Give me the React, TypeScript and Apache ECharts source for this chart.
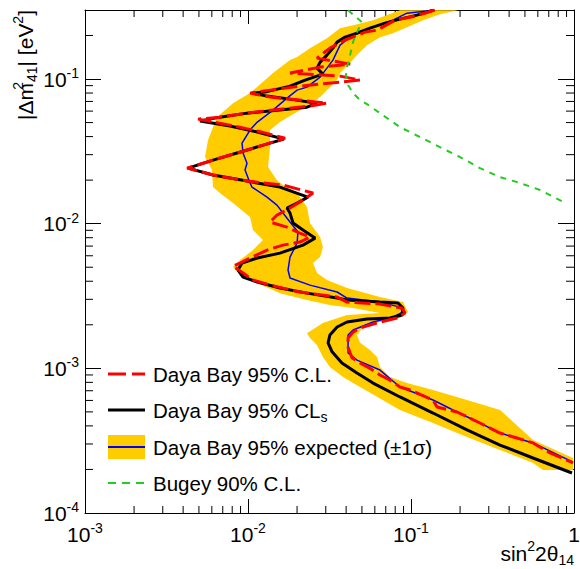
import React, { useEffect, useRef } from "react";
import * as echarts from "echarts";

const FONT = '"Liberation Sans", Arial, Helvetica, sans-serif';

const X_MIN = 0.001;
const X_MAX = 1;
const Y_MIN = 0.0001;
const Y_MAX = 0.3;

// minor tick values (sin^2 2theta) and (dm^2)
const xMinorTicks = [
  0.002, 0.003, 0.004, 0.005, 0.006, 0.007, 0.008, 0.009,
  0.02, 0.03, 0.04, 0.05, 0.06, 0.07, 0.08, 0.09,
  0.2, 0.3, 0.4, 0.5, 0.6, 0.7, 0.8, 0.9,
];
const yMinorTicks = [
  0.0002, 0.0003, 0.0004, 0.0005, 0.0006, 0.0007, 0.0008, 0.0009,
  0.002, 0.003, 0.004, 0.005, 0.006, 0.007, 0.008, 0.009,
  0.02, 0.03, 0.04, 0.05, 0.06, 0.07, 0.08, 0.09,
  0.2,
];

// Daya Bay 95% CLs contour [sin^2 2theta14, |dm^2_41|]
const clsCurve: [number, number][] = [
  [0.1365, 0.299], [0.1088, 0.2764], [0.0856, 0.2593], [0.0693, 0.2434], [0.056, 0.2248],
  [0.0466, 0.2076], [0.0394, 0.1948], [0.0352, 0.1799], [0.0332, 0.1635], [0.0305, 0.1463],
  [0.0277, 0.1309], [0.0265, 0.119], [0.0288, 0.1081], [0.0224, 0.0983], [0.0181, 0.0893],
  [0.0127, 0.0812], [0.0106, 0.0799], [0.0131, 0.0762], [0.0181, 0.0726], [0.0265, 0.0681],
  [0.023, 0.0639], [0.0157, 0.061], [0.00986, 0.0581], [0.00673, 0.0545], [0.00508, 0.0512],
  [0.00775, 0.0473], [0.0114, 0.043], [0.0166, 0.0384], [0.0124, 0.0349], [0.00856, 0.0308],
  [0.0061, 0.0275], [0.00429, 0.0242], [0.0061, 0.0217], [0.00986, 0.0197], [0.0157, 0.0179],
  [0.0233, 0.01527], [0.02, 0.01388], [0.01735, 0.01282], [0.0181, 0.01184], [0.0189, 0.0101],
  [0.02175, 0.00903], [0.0258, 0.00795], [0.02175, 0.00711], [0.0157, 0.00626], [0.0114, 0.00579],
  [0.00919, 0.00534], [0.00868, 0.00478], [0.00932, 0.00428], [0.0114, 0.00395], [0.0157, 0.00359],
  [0.023, 0.00331], [0.0352, 0.00306], [0.0405, 0.00297], [0.0645, 0.00287], [0.0832, 0.00283],
  [0.0893, 0.00261], [0.0881, 0.00234], [0.0743, 0.00223], [0.0537, 0.00219], [0.0405, 0.00209],
  [0.0352, 0.00193], [0.0318, 0.0017], [0.031, 0.0015], [0.0328, 0.0013], [0.0377, 0.00109],
  [0.0466, 0.000928], [0.0585, 0.000791], [0.0856, 0.000634], [0.1365, 0.000491], [0.2206, 0.000375],
  [0.3516, 0.000295], [0.5604, 0.00024], [0.972, 0.000189],
];

// Daya Bay 95% C.L. contour
const clCurve: [number, number][] = [
  [0.14, 0.3], [0.1058, 0.272], [0.0798, 0.2553], [0.0619, 0.2177], [0.0522, 0.2109],
  [0.0394, 0.1857], [0.0318, 0.1635], [0.0265, 0.1395], [0.0423, 0.1268], [0.0277, 0.1209],
  [0.0181, 0.1099], [0.0367, 0.1047], [0.0487, 0.0983], [0.0208, 0.0893], [0.0137, 0.0838],
  [0.0103, 0.0799], [0.0137, 0.075], [0.0208, 0.0715], [0.0305, 0.0681], [0.024, 0.065],
  [0.0157, 0.0619], [0.00986, 0.0581], [0.00673, 0.0545], [0.00494, 0.0528], [0.00775, 0.048],
  [0.0114, 0.0437], [0.0169, 0.039], [0.0124, 0.0349], [0.00856, 0.0308], [0.0061, 0.0275],
  [0.00423, 0.0242], [0.0061, 0.0217], [0.00986, 0.0197], [0.0164, 0.01848], [0.02505, 0.01628],
  [0.02175, 0.01456], [0.0181, 0.01282], [0.01506, 0.01147], [0.01365, 0.01026], [0.01735, 0.00947],
  [0.0208, 0.00861], [0.024, 0.00808], [0.0208, 0.00746], [0.0164, 0.00711], [0.0131, 0.00657],
  [0.0103, 0.00579], [0.00893, 0.00534], [0.00809, 0.00509], [0.00932, 0.00456], [0.01073, 0.00408],
  [0.01365, 0.00376], [0.0208, 0.00337], [0.0352, 0.00311], [0.0405, 0.00287], [0.0645, 0.00278],
  [0.0881, 0.00261], [0.0919, 0.00241], [0.082, 0.00223], [0.0619, 0.00206], [0.0487, 0.0019],
  [0.0441, 0.00178], [0.0411, 0.00162], [0.0411, 0.0014], [0.0423, 0.00128], [0.0435, 0.00118],
  [0.0487, 0.00109], [0.056, 0.001], [0.0645, 0.000899], [0.0743, 0.00083], [0.0856, 0.000743],
  [0.0986, 0.000708], [0.1365, 0.000604], [0.1444, 0.00054], [0.1915, 0.000499], [0.265, 0.000419],
  [0.3516, 0.000357], [0.447, 0.00033], [0.5604, 0.000305], [0.7125, 0.00026], [0.986, 0.000222],
];

// Daya Bay 95% expected (median)
const expCurve: [number, number][] = [
  [0.1365, 0.299], [0.0945, 0.2854], [0.0775, 0.2553], [0.056, 0.2248], [0.0423, 0.1948],
  [0.0367, 0.1715], [0.0332, 0.1351], [0.0277, 0.1031], [0.023, 0.0879], [0.02, 0.0838],
  [0.01735, 0.0738], [0.01424, 0.061], [0.0114, 0.0504], [0.01029, 0.0444], [0.00919, 0.0361],
  [0.00932, 0.0308], [0.00986, 0.0262], [0.00959, 0.0235], [0.01029, 0.0191], [0.01058, 0.0179],
  [0.01308, 0.01527], [0.01506, 0.01344], [0.01639, 0.01184], [0.0181, 0.01026], [0.02026, 0.00875],
  [0.02, 0.00734], [0.0181, 0.00588], [0.0176, 0.00478], [0.0181, 0.00421], [0.024, 0.00376],
  [0.0352, 0.00337], [0.0405, 0.00306], [0.0645, 0.00287], [0.0856, 0.00265], [0.0893, 0.00245],
  [0.0775, 0.00226], [0.0585, 0.00209], [0.0441, 0.00184], [0.0411, 0.0017], [0.0411, 0.00128],
  [0.0466, 0.00114], [0.0645, 0.000973], [0.0856, 0.000743], [0.1365, 0.000604], [0.1915, 0.000499],
  [0.265, 0.000419], [0.3516, 0.000357], [0.5604, 0.000305], [0.986, 0.000225],
];

// expected +-1 sigma band outline (left/upper edge downwards, then right/lower edge upwards)
const bandOutline: [number, number][] = [
  [0.0856, 0.299], [0.0585, 0.2553], [0.0441, 0.2358], [0.0367, 0.2248], [0.0305, 0.1917],
  [0.024, 0.1635], [0.02, 0.1417], [0.0181, 0.1351], [0.01424, 0.1099], [0.01029, 0.0799],
  [0.00809, 0.0681], [0.00645, 0.0545], [0.0061, 0.0465], [0.00568, 0.0378], [0.00545, 0.0289],
  [0.00601, 0.0235], [0.0061, 0.0179], [0.00673, 0.0163], [0.00809, 0.0139], [0.01029, 0.0111],
  [0.01073, 0.00903], [0.01236, 0.0077], [0.01073, 0.00657], [0.00893, 0.0056], [0.00809, 0.00501],
  [0.00932, 0.00428], [0.0114, 0.00389], [0.0157, 0.00331], [0.023, 0.00297], [0.0318, 0.00274],
  [0.0441, 0.00261], [0.0645, 0.00241], [0.0405, 0.00234], [0.0288, 0.00206], [0.023, 0.00175],
  [0.024, 0.00162], [0.0265, 0.00145], [0.0288, 0.0012], [0.0318, 0.00102], [0.0383, 0.000871],
  [0.0487, 0.000743], [0.0856, 0.000515], [0.1365, 0.000419], [0.2206, 0.000335], [0.3516, 0.000273],
  [0.5604, 0.000222], [0.6453, 0.000198], [0.986, 0.000198],
  [0.986, 0.00024], [0.5604, 0.00032], [0.3516, 0.000515], [0.2206, 0.000604], [0.1365, 0.000708],
  [0.0945, 0.000791], [0.0743, 0.000871], [0.0645, 0.00102], [0.0619, 0.0012], [0.056, 0.00134],
  [0.0487, 0.0015], [0.0466, 0.0017], [0.0508, 0.00193], [0.0645, 0.00209], [0.0856, 0.00223],
  [0.0959, 0.00245], [0.0893, 0.00287], [0.0645, 0.00311], [0.0405, 0.00359], [0.0305, 0.00408],
  [0.0265, 0.00456], [0.02505, 0.00534], [0.0277, 0.00588], [0.0288, 0.00689], [0.0277, 0.00808],
  [0.024, 0.0101], [0.023, 0.01302], [0.02, 0.01628], [0.0164, 0.01848], [0.01506, 0.02],
  [0.01327, 0.02461], [0.01365, 0.03383], [0.01365, 0.04436], [0.0157, 0.05036], [0.0208, 0.06095],
  [0.0277, 0.07497], [0.0352, 0.09826], [0.0367, 0.1099], [0.0423, 0.1288], [0.0466, 0.1463],
  [0.0537, 0.1715], [0.0645, 0.1948], [0.0775, 0.2076], [0.0945, 0.2284], [0.1185, 0.2553],
  [0.1506, 0.2808], [0.1943, 0.299],
];

// Bugey 90% C.L.
const bugeyCurve: [number, number][] = [
  [0.0411, 0.299], [0.0453, 0.272], [0.05, 0.2473], [0.0466, 0.2109], [0.0441, 0.1799],
  [0.0423, 0.1463], [0.0405, 0.1209], [0.0399, 0.1064], [0.0411, 0.0908], [0.0441, 0.0799],
  [0.0487, 0.0715], [0.0537, 0.0671], [0.0645, 0.0581], [0.0856, 0.0465], [0.1136, 0.0397],
  [0.1506, 0.0338], [0.1998, 0.0289], [0.265, 0.0242], [0.3516, 0.021], [0.4663, 0.0191],
  [0.6186, 0.0171], [0.906, 0.0137],
];

const RED = "#ff0000";
const BLUE = "#0000ff";
const YELLOW = "#ffcc00";
const GREEN = "#22cc22";

const decadeLabel = (v: number) => {
  const e = Math.log10(v);
  const r = Math.round(e);
  if (Math.abs(e - r) > 1e-6) return "";
  if (r === 0) return "{b|1}";
  return `{b|10}{s|${r}}`;
};

const labelRich = {
  b: { fontSize: 21, fontFamily: FONT, color: "#000", lineHeight: 26 },
  s: { fontSize: 14, fontFamily: FONT, color: "#000", lineHeight: 14, verticalAlign: "top" },
};

const baseAxis = {
  type: "log",
  logBase: 10,
  splitLine: { show: false },
  axisLine: { show: true, onZero: false, lineStyle: { color: "#000", width: 1 } },
};

export default function App() {
  const ref = useRef<HTMLDivElement>(null);

  useEffect(() => {
    if (!ref.current) return;
    const chart = echarts.init(ref.current, null, { renderer: "svg" });

    const tStyle = { stroke: "#000", lineWidth: 1 };
    const richT = (size: number) => ({
      b: { fontSize: size, fontFamily: FONT, fill: "#000", lineHeight: 28 },
      sup: { fontSize: 14, fontFamily: FONT, fill: "#000", lineHeight: 14, verticalAlign: "top" },
      z: { fontSize: 14, fontFamily: FONT, fill: "#000", lineHeight: 14, verticalAlign: "top", width: 1 },
      sub: { fontSize: 14, fontFamily: FONT, fill: "#000", lineHeight: 14, verticalAlign: "bottom" },
    });

    const option: any = {
      animation: false,
      backgroundColor: "#fff",
      grid: { left: 85, top: 10, width: 489, height: 503, outerBoundsMode: "none", containLabel: false },
      xAxis: [
        {
          ...baseAxis,
          position: "bottom",
          min: X_MIN,
          max: X_MAX,
          axisTick: { show: true, inside: true, length: 14, lineStyle: { color: "#000" } },
          axisLabel: { show: true, formatter: decadeLabel, rich: labelRich, margin: 8, showMinLabel: true, showMaxLabel: true },
        },
        {
          ...baseAxis,
          position: "top",
          min: X_MIN,
          max: X_MAX,
          axisTick: { show: true, inside: true, length: 14, lineStyle: { color: "#000" } },
          axisLabel: { show: false },
        },
      ],
      yAxis: [
        {
          ...baseAxis,
          position: "left",
          min: Y_MIN,
          max: Y_MAX,
          axisTick: { show: true, inside: true, length: 16, lineStyle: { color: "#000" } },
          axisLabel: { show: true, formatter: decadeLabel, rich: labelRich, margin: 6, showMinLabel: true, showMaxLabel: true },
        },
        {
          ...baseAxis,
          position: "right",
          min: Y_MIN,
          max: Y_MAX,
          axisTick: { show: true, inside: true, length: 16, lineStyle: { color: "#000" } },
          axisLabel: { show: false },
        },
      ],
      series: [
        {
          type: "custom",
          name: "xMinor",
          silent: true,
          z: 1,
          data: xMinorTicks.map((v) => [v, Y_MIN]),
          renderItem: (_p: any, api: any) => {
            const v = api.value(0);
            const b = api.coord([v, Y_MIN]);
            const t = api.coord([v, Y_MAX]);
            return {
              type: "group",
              children: [
                { type: "line", shape: { x1: b[0], y1: b[1], x2: b[0], y2: b[1] - 7 }, style: tStyle },
                { type: "line", shape: { x1: t[0], y1: t[1], x2: t[0], y2: t[1] + 7 }, style: tStyle },
              ],
            };
          },
        },
        {
          type: "custom",
          name: "yMinor",
          silent: true,
          z: 1,
          data: yMinorTicks.map((v) => [X_MIN, v]),
          renderItem: (_p: any, api: any) => {
            const v = api.value(1);
            const l = api.coord([X_MIN, v]);
            const r = api.coord([X_MAX, v]);
            return {
              type: "group",
              children: [
                { type: "line", shape: { x1: l[0], y1: l[1], x2: l[0] + 8, y2: l[1] }, style: tStyle },
                { type: "line", shape: { x1: r[0], y1: r[1], x2: r[0] - 8, y2: r[1] }, style: tStyle },
              ],
            };
          },
        },
        {
          type: "custom",
          name: "Daya Bay 95% expected band",
          silent: true,
          z: 2,
          clip: true,
          data: [bandOutline[0]],
          renderItem: (_p: any, api: any) => ({
            type: "polygon",
            shape: { points: bandOutline.map((p) => api.coord(p)) },
            style: { fill: YELLOW, stroke: "none" },
          }),
        },
        {
          type: "line",
          name: "Daya Bay 95% expected",
          data: expCurve,
          symbol: "none",
          silent: true,
          z: 3,
          lineStyle: { color: BLUE, width: 1.5 },
        },
        {
          type: "line",
          name: "Daya Bay 95% CLs",
          data: clsCurve,
          symbol: "none",
          silent: true,
          z: 4,
          lineStyle: { color: "#000", width: 3 },
        },
        {
          type: "line",
          name: "Daya Bay 95% C.L.",
          data: clCurve,
          symbol: "none",
          silent: true,
          z: 5,
          lineStyle: { color: RED, width: 3, type: [16, 5] },
        },
        {
          type: "line",
          name: "Bugey 90% C.L.",
          data: bugeyCurve,
          symbol: "none",
          silent: true,
          z: 6,
          lineStyle: { color: GREEN, width: 2, type: [6, 6] },
        },
      ],
      graphic: [
        // legend
        { type: "line", z: 10, shape: { x1: 108, y1: 374, x2: 145, y2: 374 }, style: { stroke: RED, lineWidth: 3, lineDash: [18, 6] } },
        { type: "text", z: 10, x: 153, y: 374, style: { text: "Daya Bay 95% C.L.", fontSize: 20.5, fontFamily: FONT, fill: "#000", verticalAlign: "middle" } },
        { type: "line", z: 10, shape: { x1: 108, y1: 410, x2: 145, y2: 410 }, style: { stroke: "#000", lineWidth: 3 } },
        { type: "text", z: 10, x: 153, y: 410, style: { text: "{b|Daya Bay 95% CL}{sub|s}", verticalAlign: "middle", rich: richT(20.5) } },
        { type: "rect", z: 10, shape: { x: 108, y: 435, width: 37, height: 24 }, style: { fill: YELLOW } },
        { type: "line", z: 10, shape: { x1: 108, y1: 447, x2: 145, y2: 447 }, style: { stroke: BLUE, lineWidth: 2 } },
        { type: "text", z: 10, x: 153, y: 447, style: { text: "Daya Bay 95% expected (±1σ)", fontSize: 20.5, fontFamily: FONT, fill: "#000", verticalAlign: "middle" } },
        { type: "line", z: 10, shape: { x1: 108, y1: 483, x2: 145, y2: 483 }, style: { stroke: GREEN, lineWidth: 2, lineDash: [8, 6] } },
        { type: "text", z: 10, x: 153, y: 483, style: { text: "Bugey 90% C.L.", fontSize: 20.5, fontFamily: FONT, fill: "#000", verticalAlign: "middle" } },
        // axis titles
        { type: "text", z: 10, x: 574, y: 553, style: { text: "{b|sin}{sup|2}{b|2θ}{sub|14}", align: "right", verticalAlign: "middle", rich: richT(21) } },
        {
          type: "text",
          z: 10,
          x: 25,
          y: 10,
          rotation: Math.PI / 2,
          style: { text: "{b||Δm}{z|2}{sub|41}{b|| [eV}{sup|2}{b|]}", align: "right", verticalAlign: "middle", rich: richT(21) },
        },
      ],
    };

    chart.setOption(option);
    return () => chart.dispose();
  }, []);

  return (
    <div
      ref={ref}
      style={{ position: "absolute", left: 0, top: 0, width: 580, height: 569, background: "#fff" }}
    />
  );
}
